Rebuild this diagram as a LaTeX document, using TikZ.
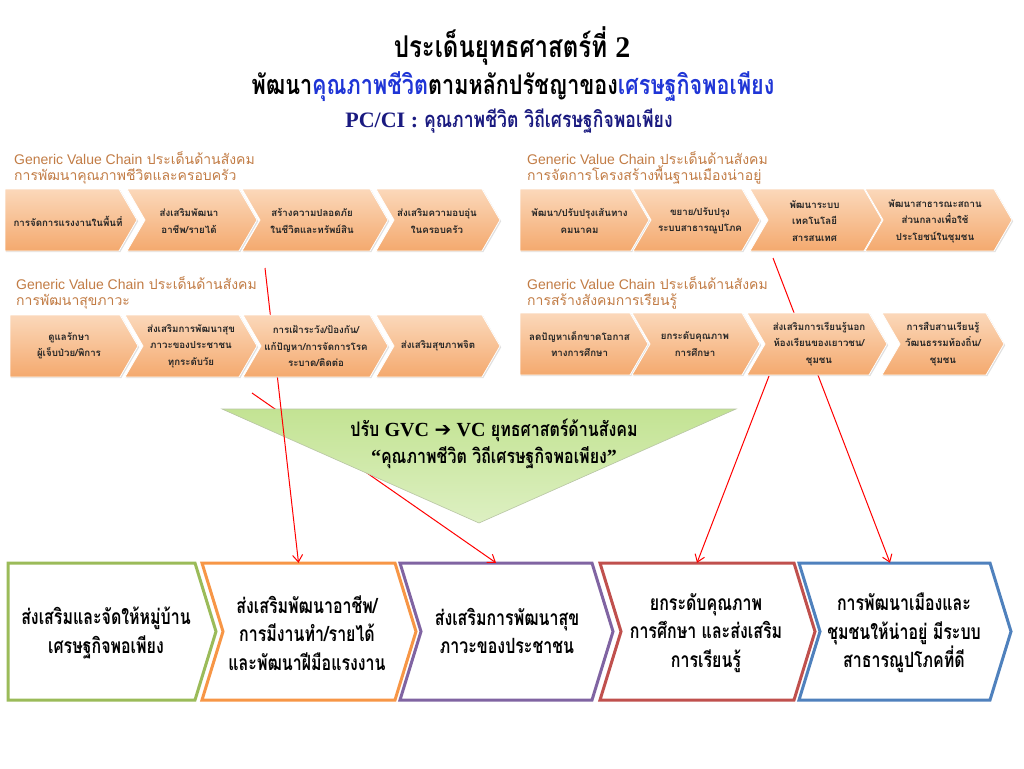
\documentclass[tikz,border=0pt]{standalone}
\usepackage{fontspec}
\usetikzlibrary{arrows.meta,calc,shadows}
\newfontfamily\thai[Script=Thai]{Loma}
\newfontfamily\thaic[Script=Thai,FakeStretch=0.8]{Loma}
\newfontfamily\thaib[Script=Thai,FakeStretch=0.76]{Loma}
\newfontfamily\ser{Liberation Serif}
\newfontfamily\lsans{Liberation Sans}
\newfontfamily\djv{DejaVu Sans}
\definecolor{hdr}{HTML}{C27C45}
\definecolor{navyt}{HTML}{1A1A80}
\definecolor{bluet}{HTML}{1F35D6}
\definecolor{gGreen}{HTML}{9BBB59}
\definecolor{gOrange}{HTML}{F79646}
\definecolor{gPurple}{HTML}{8064A2}
\definecolor{gRed}{HTML}{C0504D}
\definecolor{gBlue}{HTML}{4F81BD}
\definecolor{chTop}{HTML}{FBD8BA}
\definecolor{chBot}{HTML}{F4A96E}
\definecolor{triTop}{HTML}{C3E393}
\definecolor{triBot}{HTML}{DDF0C2}
% style, x-left, x-right(top corner), y-top, y-bottom, left notch, tip depth
\newcommand\chv[7]{%
  \path[#1] (#2,#4) -- (#3,#4) -- ({#3+#7},{(#4+#5)/2}) -- (#3,#5) -- (#2,#5) -- ({#2+#6},{(#4+#5)/2}) -- cycle;}
\tikzset{
  chainbox/.style={top color=chTop, bottom color=chBot, draw=white, line width=0.8pt,
    drop shadow={shadow xshift=1.2pt,shadow yshift=-1.2pt,opacity=0.25}},
  vbox/.style={fill=white, line width=3pt, line join=miter},
  item/.style={font=\thai\bfseries\fontsize{9.7}{16.5}\selectfont, text=black!85, align=center, inner sep=0pt},
  hd/.style={font=\fontsize{14}{16}\selectfont, text=hdr, align=left, anchor=west, inner sep=0pt},
  btxt/.style={font=\thaib\bfseries\fontsize{21}{28.5}\selectfont, align=center, inner sep=0pt},
  tritxt/.style={font=\thaic\bfseries\fontsize{20}{27}\selectfont, align=center, inner sep=0pt},
  ttl/.style={font=\thaic\bfseries\fontsize{27}{30}\selectfont, align=center, inner sep=0pt},
  body/.style={inner sep=0pt, minimum height=137pt},
  link/.style={red, line width=1pt, -{Straight Barb[length=7pt,width=10pt]}},
}
\begin{document}
\begin{tikzpicture}[x=1pt,y=-1pt]
\useasboundingbox (0,0) rectangle (1024,768);
\fill[white] (0,0) rectangle (1024,768);

% titles
\node[ttl, font=\thaic\bfseries\fontsize{30}{32}\selectfont] (t1) at (512,46) {ประเด็นยุทธศาสตร์ที่ {\ser 2}};
\node[ttl] (t2) at (513,87) {พัฒนา\textcolor{bluet}{คุณภาพชีวิต}ตามหลักปรัชญาของ\textcolor{bluet}{เศรษฐกิจพอเพียง}};
\node[ttl, text=navyt, font=\thaic\bfseries\fontsize{22}{24}\selectfont] (t3) at (509,121) {{\ser PC/CI :} คุณภาพชีวิต วิถีเศรษฐกิจพอเพียง};

% bottom value-chain boxes
\chv{vbox, draw=gGreen}{8}{195}{563}{700}{0}{21}
\chv{vbox, draw=gOrange}{202}{395}{563}{700}{21}{21}
\chv{vbox, draw=gPurple}{400}{592}{563}{700}{21}{21}
\chv{vbox, draw=gRed}{600}{794}{563}{700}{21}{21}
\chv{vbox, draw=gBlue}{799}{990}{563}{700}{21}{21}
\node[body, minimum width=187pt] (box1) at (101.5,631.5) {};
\node[body, minimum width=193pt] (box2) at (298.5,631.5) {};
\node[body, minimum width=192pt] (box3) at (496,631.5) {};
\node[body, minimum width=194pt] (box4) at (697,631.5) {};
\node[body, minimum width=182pt] (box5) at (890,631.5) {};
\node[btxt] (b1) at (106,633) {ส่งเสริมและจัดให้หมู่บ้าน\\เศรษฐกิจพอเพียง};
\node[btxt] (b2) at (307,633) {ส่งเสริมพัฒนาอาชีพ/\\การมีงานทำ/รายได้\\และพัฒนาฝีมือแรงงาน};
\node[btxt] (b3) at (507,631) {ส่งเสริมการพัฒนาสุข\\ภาวะของประชาชน};
\node[btxt] (b4) at (706,633) {ยกระดับคุณภาพ\\การศึกษา และส่งเสริม\\การเรียนรู้};
\node[btxt] (b5) at (904,633) {การพัฒนาเมืองและ\\ชุมชนให้น่าอยู่ มีระบบ\\สาธารณูปโภคที่ดี};

% connector start points
\coordinate (s1) at (265,268);
\coordinate (s2) at (252,393);
\coordinate (s3) at (773,258);
\coordinate (s4) at (769,376);

\draw[link] (s2) -- (box3.north);

% triangle
\path[top color=triTop, bottom color=triBot, draw=triTop!70!black!60, line width=0.6pt]
  (222,409) -- (736,409) -- (479,523) -- cycle;
\node[tritxt] (tri) at (494,444) {ปรับ {\ser GVC} {\djv ➔} {\ser VC} ยุทธศาสตร์ด้านสังคม\\{\ser “}คุณภาพชีวิต วิถีเศรษฐกิจพอเพียง{\ser ”}};

\draw[link] (s1) -- (box2.north);
\draw[link] (s3) -- (box5.north);
\draw[link] (s4) -- (box4.north);

% chain 1
\node[hd] (h1) at (14,168) {{\lsans Generic Value Chain} {\thai ประเด็นด้านสังคม}\\{\thai การพัฒนาคุณภาพชีวิตและครอบครัว}};
\chv{chainbox}{5}{119}{189}{251}{0}{18}
\chv{chainbox}{127}{239}{189}{251}{18}{18}
\chv{chainbox}{242}{370}{189}{251}{18}{18}
\chv{chainbox}{376}{482}{189}{251}{18}{18}
\node[item] (c1a) at (68,221) {การจัดการแรงงานในพื้นที่};
\node[item] (c1b) at (189,221) {ส่งเสริมพัฒนา\\อาชีพ/รายได้};
\node[item] (c1c) at (312,221) {สร้างความปลอดภัย\\ในชีวิตและทรัพย์สิน};
\node[item] (c1d) at (437,221) {ส่งเสริมความอบอุ่น\\ในครอบครัว};

% chain 2
\node[hd] (h2) at (527,168) {{\lsans Generic Value Chain} {\thai ประเด็นด้านสังคม}\\{\thai การจัดการโครงสร้างพื้นฐานเมืองน่าอยู่}};
\chv{chainbox}{520}{631}{189}{251}{0}{18}
\chv{chainbox}{633}{742}{189}{251}{18}{18}
\chv{chainbox}{750}{864}{189}{251}{18}{18}
\chv{chainbox}{865}{994}{189}{251}{18}{18}
\node[item] (c2a) at (579.5,221) {พัฒนา/ปรับปรุงเส้นทาง\\คมนาคม};
\node[item] (c2b) at (700,221) {ขยาย/ปรับปรุง\\ระบบสาธารณูปโภค};
\node[item] (c2c) at (814.5,221) {พัฒนาระบบ\\เทคโนโลยี\\สารสนเทศ};
\node[item] (c2d) at (935,221) {พัฒนาสาธารณะสถาน\\ส่วนกลางเพื่อใช้\\ประโยชน์ในชุมชน};

% chain 3
\node[hd] (h3) at (16,293) {{\lsans Generic Value Chain} {\thai ประเด็นด้านสังคม}\\{\thai การพัฒนาสุขภาวะ}};
\chv{chainbox}{10}{120}{315}{377}{0}{18}
\chv{chainbox}{125}{239}{315}{377}{18}{18}
\chv{chainbox}{243}{370}{315}{377}{18}{18}
\chv{chainbox}{376}{482}{315}{377}{18}{18}
\node[item] (c3a) at (69,346) {ดูแลรักษา\\ผู้เจ็บป่วย/พิการ};
\node[item] (c3b) at (191,346) {ส่งเสริมการพัฒนาสุข\\ภาวะของประชาชน\\ทุกระดับวัย};
\node[item] (c3c) at (316,346) {การเฝ้าระวัง/ป้องกัน/\\แก้ปัญหา/การจัดการโรค\\ระบาด/ติดต่อ};
\node[item] (c3d) at (438,346) {ส่งเสริมสุขภาพจิต};

% chain 4
\node[hd] (h4) at (527,293) {{\lsans Generic Value Chain} {\thai ประเด็นด้านสังคม}\\{\thai การสร้างสังคมการเรียนรู้}};
\chv{chainbox}{520}{630}{313}{375}{0}{18}
\chv{chainbox}{632}{742}{313}{375}{18}{18}
\chv{chainbox}{747}{869}{313}{375}{18}{18}
\chv{chainbox}{882}{986}{313}{375}{18}{18}
\node[item] (c4a) at (579.5,344) {ลดปัญหาเด็กขาดโอกาส\\ทางการศึกษา};
\node[item] (c4b) at (695,344) {ยกระดับคุณภาพ\\การศึกษา};
\node[item] (c4c) at (819,344) {ส่งเสริมการเรียนรู้นอก\\ห้องเรียนของเยาวชน/\\ชุมชน};
\node[item] (c4d) at (943,344) {การสืบสานเรียนรู้\\วัฒนธรรมท้องถิ่น/\\ชุมชน};
\end{tikzpicture}
\end{document}
